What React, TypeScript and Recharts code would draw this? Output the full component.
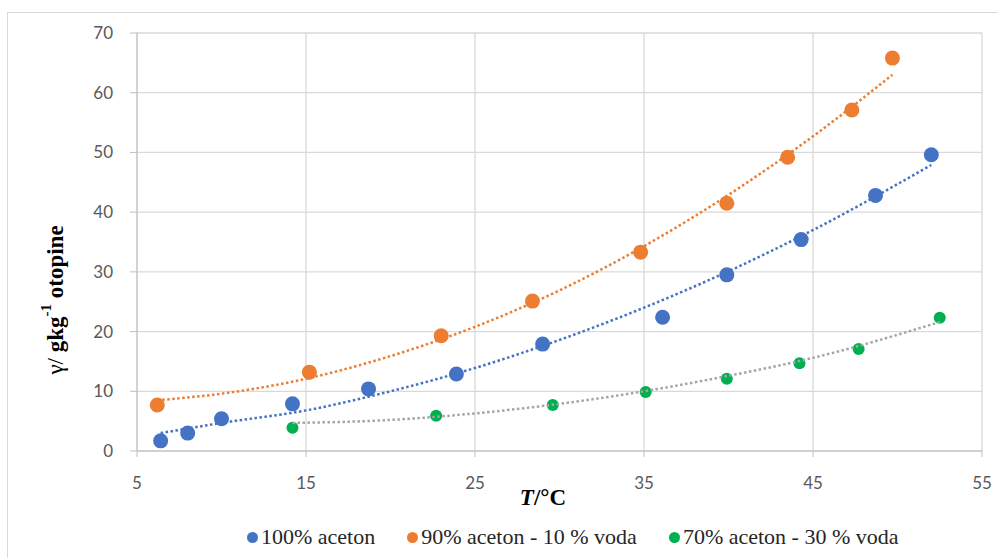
import React from 'react';
import { ScatterChart, Scatter, XAxis, YAxis, CartesianGrid } from 'recharts';

// measured points (T in °C, γ in g/kg)
const aceton100 = [
  { x: 6.4, y: 1.7 }, { x: 8.0, y: 3.0 }, { x: 10.0, y: 5.4 }, { x: 14.2, y: 7.9 },
  { x: 18.7, y: 10.4 }, { x: 23.9, y: 12.9 }, { x: 29.0, y: 17.9 }, { x: 36.1, y: 22.4 },
  { x: 39.9, y: 29.5 }, { x: 44.3, y: 35.4 }, { x: 48.7, y: 42.8 }, { x: 52.0, y: 49.6 },
];
const aceton90 = [
  { x: 6.2, y: 7.7 }, { x: 15.2, y: 13.2 }, { x: 23.0, y: 19.3 }, { x: 28.4, y: 25.1 },
  { x: 34.8, y: 33.3 }, { x: 39.9, y: 41.5 }, { x: 43.5, y: 49.2 }, { x: 47.3, y: 57.1 },
  { x: 49.7, y: 65.8 },
];
const aceton70 = [
  { x: 14.2, y: 3.9 }, { x: 22.7, y: 5.9 }, { x: 29.6, y: 7.7 }, { x: 35.1, y: 9.9 },
  { x: 39.9, y: 12.1 }, { x: 44.2, y: 14.7 }, { x: 47.7, y: 17.1 }, { x: 52.5, y: 22.3 },
];

// trendlines
const trend100 = [
  { x: 6.4, y: 3.0 }, { x: 10, y: 4.7 }, { x: 15, y: 6.8 }, { x: 20, y: 10.0 }, { x: 25, y: 13.9 },
  { x: 30, y: 18.6 }, { x: 35, y: 24.0 }, { x: 40, y: 30.1 }, { x: 45, y: 37.0 }, { x: 52, y: 47.9 },
];
const trend90 = [
  { x: 6.2, y: 8.5 }, { x: 10, y: 9.6 }, { x: 15, y: 12.1 }, { x: 20, y: 15.9 }, { x: 25, y: 20.8 },
  { x: 30, y: 26.9 }, { x: 35, y: 34.3 }, { x: 40, y: 42.9 }, { x: 45, y: 52.7 }, { x: 49.7, y: 63.0 },
];
const trend70 = [
  { x: 14.2, y: 4.7 }, { x: 20, y: 5.2 }, { x: 25, y: 6.3 }, { x: 30, y: 7.9 }, { x: 35, y: 10.0 },
  { x: 40, y: 12.6 }, { x: 45, y: 15.6 }, { x: 52.5, y: 21.6 },
];

const xTicks = [5, 15, 25, 35, 45, 55];
const yTicks = [0, 10, 20, 30, 40, 50, 60, 70];

const legendItems = [
  { name: '100% aceton', color: '#4472C4' },
  { name: '90% aceton - 10 % voda', color: '#ED7D31' },
  { name: '70% aceton - 30 % voda', color: '#00B050' },
];

const dot = (r: number, color: string) => (props: any) =>
  <circle cx={props.cx} cy={props.cy} r={r} fill={color} />;

const noDot = () => <g />;

const dotted = (color: string) => ({ stroke: color, strokeWidth: 2.5, strokeDasharray: '2.5 2.5' });

const serif = '"Liberation Serif", "Times New Roman", serif';

function YLabel(props: any) {
  const vb = props.viewBox;
  const cx = 55;
  const cy = vb.y + vb.height / 2 + 58;
  return (
    <text x={cx} y={cy} transform={`rotate(-90 ${cx} ${cy})`} textAnchor="middle"
      dominantBaseline="central" fontFamily={serif} fontSize={23} fill="#000">
      <tspan>γ/ </tspan>
      <tspan fontWeight="bold">gkg</tspan>
      <tspan fontWeight="bold" fontSize={15} dy={-9}>-1</tspan>
      <tspan fontWeight="bold" dy={9}> otopine</tspan>
    </text>
  );
}

function XLabel(props: any) {
  const vb = props.viewBox;
  return (
    <text x={543} y={vb.y + 54} textAnchor="middle" fontFamily={serif} fontSize={23}
      fontWeight="bold" fill="#000">
      <tspan fontStyle="italic">T</tspan>
      <tspan>/°C</tspan>
    </text>
  );
}

export default function App() {
  return (
    <div style={{ position: 'absolute', left: 0, top: 0, width: 998, height: 558, overflow: 'hidden', background: '#fff' }}>
      <div style={{ position: 'absolute', left: 7, top: 12, width: 1000, height: 600, border: '1px solid #D9D9D9' }} />
      <div style={{ position: 'absolute', left: 0, top: 0 }}>
        <ScatterChart width={998} height={558} margin={{ top: 33, right: 16, bottom: 47, left: 77 }}>
          <CartesianGrid stroke="#D9D9D9" strokeWidth={1.3} />
          <XAxis
            type="number"
            dataKey="x"
            domain={[5, 55]}
            ticks={xTicks}
            height={60}
            stroke="#BFBFBF"
            tickSize={6}
            tickMargin={20}
            tick={{ fill: '#595959', fontSize: 17, fontFamily: 'Lato, sans-serif' }}
            label={<XLabel />}
          />
          <YAxis
            type="number"
            dataKey="y"
            domain={[0, 70]}
            ticks={yTicks}
            width={60}
            stroke="#BFBFBF"
            tickSize={7}
            tickMargin={17}
            tick={{ fill: '#595959', fontSize: 17, fontFamily: 'Lato, sans-serif' }}
            label={<YLabel />}
          />
          <Scatter name="100% aceton" data={aceton100} shape={dot(7.5, '#4472C4')} isAnimationActive={false} />
          <Scatter name="90% aceton - 10 % voda" data={aceton90} shape={dot(7.5, '#ED7D31')} isAnimationActive={false} />
          <Scatter name="70% aceton - 30 % voda" data={aceton70} shape={dot(6, '#00B050')} isAnimationActive={false} />
          <Scatter data={trend100} shape={noDot} line={dotted('#4472C4')} lineJointType="monotoneX" isAnimationActive={false} />
          <Scatter data={trend90} shape={noDot} line={dotted('#ED7D31')} lineJointType="monotoneX" isAnimationActive={false} />
          <Scatter data={trend70} shape={noDot} line={dotted('#A5A5A5')} lineJointType="monotoneX" isAnimationActive={false} />
        </ScatterChart>
      </div>
      <div style={{ position: 'absolute', left: 247, top: 524, display: 'flex', gap: 32, fontFamily: serif, fontSize: 22, color: '#262626' }}>
        {legendItems.map((it) => (
          <div key={it.name} style={{ display: 'flex', alignItems: 'center' }}>
            <span style={{ width: 11, height: 11, borderRadius: '50%', background: it.color, marginRight: 3, display: 'inline-block' }} />
            <span>{it.name}</span>
          </div>
        ))}
      </div>
    </div>
  );
}
